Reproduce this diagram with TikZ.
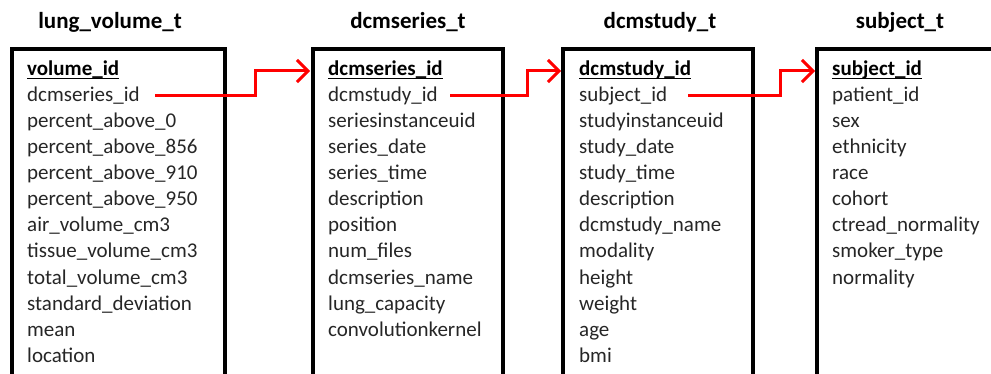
\documentclass[tikz,border=0pt]{standalone}
\usepackage{fontspec}
\setmainfont{Carlito}
\usetikzlibrary{arrows.meta}
\begin{document}
\begin{tikzpicture}[x=1pt,y=-1pt,
  tbl/.style={line width=3.5pt, line join=miter},
  fld/.style={anchor=base west, inner sep=0pt, font=\fontsize{21}{24}\selectfont, text=black!85},
  key/.style={anchor=base west, inner sep=0pt, font=\fontsize{21}{24}\selectfont\bfseries, text=black},
  ul/.style={line width=1.6pt},
  ttl/.style={anchor=base, inner sep=0pt, font=\fontsize{23}{27}\selectfont\bfseries},
  fk/.style={draw=red, line width=3pt, -{Straight Barb[length=11pt,width=22pt]}}]
\useasboundingbox (0,0) rectangle (991,374);
\clip (0,0) rectangle (991,374);
% titles
\node[ttl] (h1) at (110,29) {lung\_volume\_t};
\node[ttl] (h2) at (408,29) {dcmseries\_t};
\node[ttl] (h3) at (660,29) {dcmstudy\_t};
\node[ttl] (h4) at (900,29) {subject\_t};
% boxes
\draw[tbl] (12,400) -- (12,49) -- (225,49) -- (225,400);
\draw[tbl] (313,400) -- (313,49) -- (503,49) -- (503,400);
\draw[tbl] (563,400) -- (563,49) -- (753,49) -- (753,400);
\draw[tbl] (817,400) -- (817,49) -- (1010,49);
% table 1
\node[key] (t1f1) at (27,76) {volume\_id};
\draw[ul] ([yshift=-2.6pt]t1f1.base west) -- ([yshift=-2.6pt]t1f1.base east);
\foreach \f [count=\i from 2] in {dcmseries\_id, percent\_above\_0, percent\_above\_856, percent\_above\_910, percent\_above\_950, air\_volume\_cm3, tissue\_volume\_cm3, total\_volume\_cm3, standard\_deviation, mean, location}
  \node[fld] (t1f\i) at (27,{50+26*\i}) {\f};
% table 2
\node[key] (t2f1) at (328,76) {dcmseries\_id};
\draw[ul] ([yshift=-2.6pt]t2f1.base west) -- ([yshift=-2.6pt]t2f1.base east);
\foreach \f [count=\i from 2] in {dcmstudy\_id, seriesinstanceuid, series\_date, series\_time, description, position, num\_files, dcmseries\_name, lung\_capacity, convolutionkernel}
  \node[fld] (t2f\i) at (328,{50+26*\i}) {\f};
% table 3
\node[key] (t3f1) at (579,76) {dcmstudy\_id};
\draw[ul] ([yshift=-2.6pt]t3f1.base west) -- ([yshift=-2.6pt]t3f1.base east);
\foreach \f [count=\i from 2] in {subject\_id, studyinstanceuid, study\_date, study\_time, description, dcmstudy\_name, modality, height, weight, age, bmi}
  \node[fld] (t3f\i) at (579,{50+26*\i}) {\f};
% table 4
\node[key] (t4f1) at (832,76) {subject\_id};
\draw[ul] ([yshift=-2.6pt]t4f1.base west) -- ([yshift=-2.6pt]t4f1.base east);
\foreach \f [count=\i from 2] in {patient\_id, sex, ethnicity, race, cohort, ctread\_normality, smoker\_type, normality}
  \node[fld] (t4f\i) at (832,{50+26*\i}) {\f};
% foreign keys
\coordinate (s1) at (155,96);
\coordinate (e1) at (310,71);
\coordinate (s2) at (450,96);
\coordinate (e2) at (561,71);
\coordinate (s3) at (688,96);
\coordinate (e3) at (815,71);
\draw[fk] (s1) -- ++(100,0) |- (e1);
\draw[fk] (s2) -- ++(77,0) |- (e2);
\draw[fk] (s3) -- ++(92,0) |- (e3);
\end{tikzpicture}
\end{document}
